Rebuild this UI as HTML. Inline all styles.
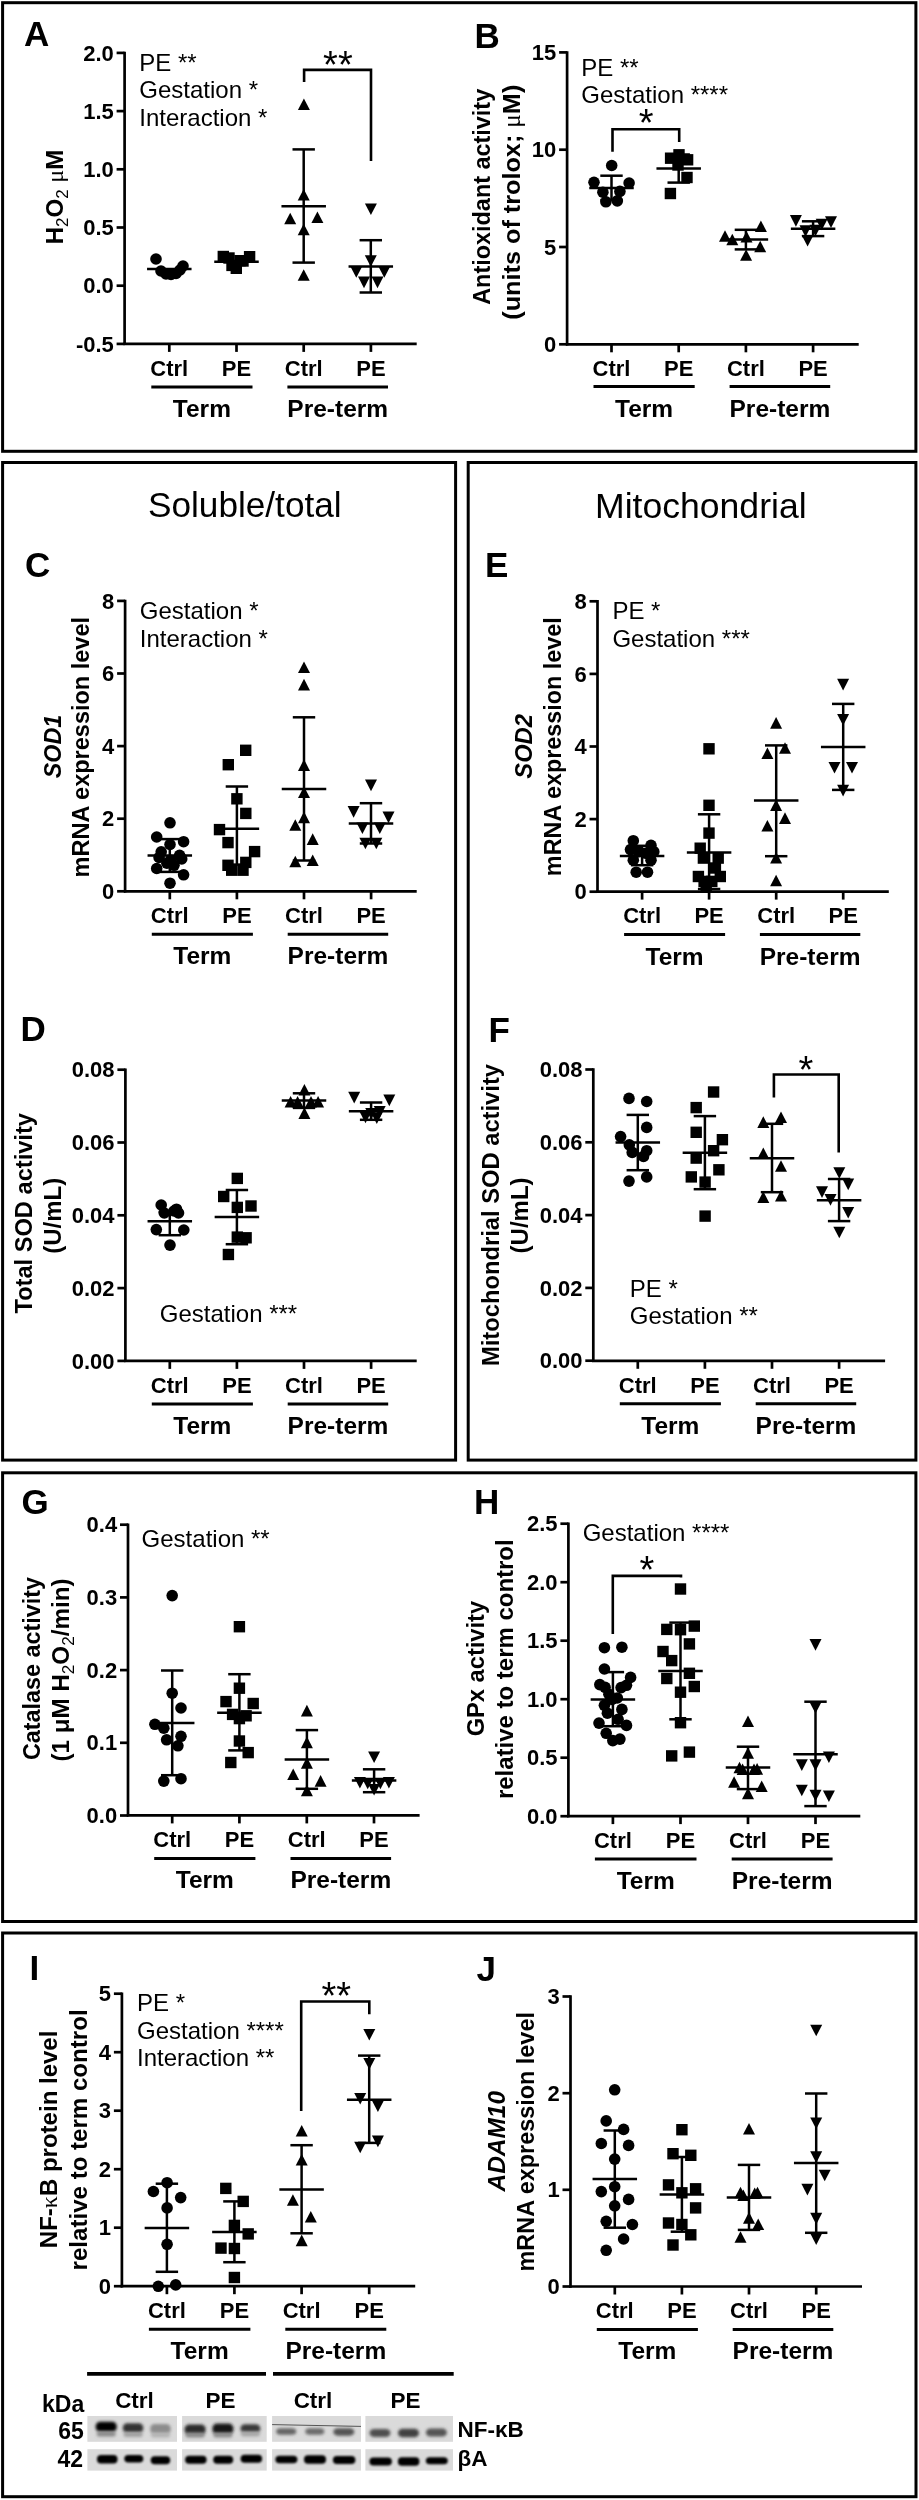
<!DOCTYPE html>
<html><head><meta charset="utf-8"><style>
html,body{margin:0;padding:0;background:#fff;}
svg{display:block;will-change:transform;}
text{font-family:"Liberation Sans",sans-serif;fill:#000;}
</style></head><body>
<svg width="919" height="2500" viewBox="0 0 919 2500">
<rect width="919" height="2500" fill="#fff"/>
<rect x="2.6" y="2.7" width="913.3" height="448.6" fill="none" stroke="#000" stroke-width="3"/>
<rect x="2.6" y="462.5" width="453.0" height="997.5999999999999" fill="none" stroke="#000" stroke-width="3"/>
<rect x="468.2" y="462.5" width="447.7" height="997.5999999999999" fill="none" stroke="#000" stroke-width="3"/>
<rect x="2.6" y="1472.8" width="913.3" height="448.70000000000005" fill="none" stroke="#000" stroke-width="3"/>
<rect x="2.6" y="1933" width="913.4" height="563.6999999999998" fill="none" stroke="#000" stroke-width="3"/>
<text x="24" y="46" font-size="35" font-weight="bold" text-anchor="start" >A</text>
<line x1="124.6" y1="51.699999999999996" x2="124.6" y2="345.09999999999997" stroke="#000" stroke-width="2.7"/>
<line x1="116.6" y1="52.9" x2="124.6" y2="52.9" stroke="#000" stroke-width="2.7"/>
<text x="113.8" y="60.5" font-size="22" font-weight="bold" text-anchor="end" >2.0</text>
<line x1="116.6" y1="111.1" x2="124.6" y2="111.1" stroke="#000" stroke-width="2.7"/>
<text x="113.8" y="118.69999999999999" font-size="22" font-weight="bold" text-anchor="end" >1.5</text>
<line x1="116.6" y1="169.3" x2="124.6" y2="169.3" stroke="#000" stroke-width="2.7"/>
<text x="113.8" y="176.9" font-size="22" font-weight="bold" text-anchor="end" >1.0</text>
<line x1="116.6" y1="227.5" x2="124.6" y2="227.5" stroke="#000" stroke-width="2.7"/>
<text x="113.8" y="235.1" font-size="22" font-weight="bold" text-anchor="end" >0.5</text>
<line x1="116.6" y1="285.7" x2="124.6" y2="285.7" stroke="#000" stroke-width="2.7"/>
<text x="113.8" y="293.3" font-size="22" font-weight="bold" text-anchor="end" >0.0</text>
<line x1="116.6" y1="343.9" x2="124.6" y2="343.9" stroke="#000" stroke-width="2.7"/>
<text x="113.8" y="351.5" font-size="22" font-weight="bold" text-anchor="end" >-0.5</text>
<line x1="123.39999999999999" y1="343.9" x2="416.7" y2="343.9" stroke="#000" stroke-width="2.7"/>
<line x1="169.3" y1="343.9" x2="169.3" y2="351.9" stroke="#000" stroke-width="2.7"/>
<line x1="236.5" y1="343.9" x2="236.5" y2="351.9" stroke="#000" stroke-width="2.7"/>
<line x1="303.7" y1="343.9" x2="303.7" y2="351.9" stroke="#000" stroke-width="2.7"/>
<line x1="370.9" y1="343.9" x2="370.9" y2="351.9" stroke="#000" stroke-width="2.7"/>
<text x="169.3" y="375.6" font-size="22" font-weight="bold" text-anchor="middle" >Ctrl</text>
<text x="236.5" y="375.6" font-size="22" font-weight="bold" text-anchor="middle" >PE</text>
<text x="303.7" y="375.6" font-size="22" font-weight="bold" text-anchor="middle" >Ctrl</text>
<text x="370.9" y="375.6" font-size="22" font-weight="bold" text-anchor="middle" >PE</text>
<line x1="151.3" y1="386.9" x2="252.5" y2="386.9" stroke="#000" stroke-width="3"/>
<text x="201.9" y="416.8" font-size="24.5" font-weight="bold" text-anchor="middle" >Term</text>
<line x1="287.4" y1="386.9" x2="388.0" y2="386.9" stroke="#000" stroke-width="3"/>
<text x="337.7" y="416.8" font-size="24.5" font-weight="bold" text-anchor="middle" >Pre-term</text>
<text transform="translate(63.2,197) rotate(-90)" font-size="24" font-weight="bold" text-anchor="middle">H<tspan font-size="17" font-weight="normal" dy="5">2</tspan><tspan dy="-5">O</tspan><tspan font-size="17" font-weight="normal" dy="5">2</tspan><tspan dy="-5"> </tspan><tspan font-family="Liberation Serif" font-weight="normal">μ</tspan>M</text>
<text x="139.3" y="70.6" font-size="24" font-weight="normal" text-anchor="start" >PE **</text>
<text x="139.3" y="98.19999999999999" font-size="24" font-weight="normal" text-anchor="start" >Gestation *</text>
<text x="139.3" y="125.8" font-size="24" font-weight="normal" text-anchor="start" >Interaction *</text>
<path d="M304.1,82.1V69.9H371V161" fill="none" stroke="#000" stroke-width="2.6"/>
<text x="337.9" y="78.3" font-size="38" font-weight="normal" text-anchor="middle" >**</text>
<circle cx="156" cy="259" r="5.8"/>
<circle cx="183" cy="266" r="5.8"/>
<circle cx="161" cy="271" r="5.8"/>
<circle cx="166" cy="274" r="5.8"/>
<circle cx="171" cy="274.5" r="5.8"/>
<circle cx="176" cy="273.5" r="5.8"/>
<circle cx="180" cy="270" r="5.8"/>
<line x1="147.05" y1="269.1" x2="191.55" y2="269.1" stroke="#000" stroke-width="2.5"/>
<rect x="217.6" y="250.8" width="11.4" height="11.4"/>
<rect x="223.3" y="252.3" width="11.4" height="11.4"/>
<rect x="243.9" y="251.0" width="11.4" height="11.4"/>
<rect x="234.3" y="255.0" width="11.4" height="11.4"/>
<rect x="230.6" y="262.6" width="11.4" height="11.4"/>
<rect x="226.3" y="259.7" width="11.4" height="11.4"/>
<rect x="237.3" y="255.3" width="11.4" height="11.4"/>
<line x1="214.25" y1="261.8" x2="258.75" y2="261.8" stroke="#000" stroke-width="2.5"/>
<path d="M303.9,98.5L309.9,110.1L297.9,110.1Z"/>
<path d="M303.7,188.9L309.7,200.5L297.7,200.5Z"/>
<path d="M290.2,212.7L296.2,224.3L284.2,224.3Z"/>
<path d="M317.4,211.5L323.4,223.1L311.4,223.1Z"/>
<path d="M303.7,223.7L309.7,235.3L297.7,235.3Z"/>
<path d="M303.7,269.2L309.7,280.8L297.7,280.8Z"/>
<line x1="303.7" y1="262.6" x2="303.7" y2="149.4" stroke="#000" stroke-width="2.5"/>
<line x1="292.5" y1="262.6" x2="314.9" y2="262.6" stroke="#000" stroke-width="2.5"/>
<line x1="292.5" y1="149.4" x2="314.9" y2="149.4" stroke="#000" stroke-width="2.5"/>
<line x1="281.45" y1="206.3" x2="325.95" y2="206.3" stroke="#000" stroke-width="2.5"/>
<path d="M370.9,215.0L376.9,203.4L364.9,203.4Z"/>
<path d="M370.8,266.8L376.8,255.2L364.8,255.2Z"/>
<path d="M356.3,277.8L362.3,266.2L350.3,266.2Z"/>
<path d="M384.3,277.8L390.3,266.2L378.3,266.2Z"/>
<path d="M364.0,288.2L370.0,276.6L358.0,276.6Z"/>
<path d="M377.5,288.2L383.5,276.6L371.5,276.6Z"/>
<line x1="370.8" y1="292.5" x2="370.8" y2="240.2" stroke="#000" stroke-width="2.5"/>
<line x1="359.6" y1="292.5" x2="382.0" y2="292.5" stroke="#000" stroke-width="2.5"/>
<line x1="359.6" y1="240.2" x2="382.0" y2="240.2" stroke="#000" stroke-width="2.5"/>
<line x1="348.55" y1="266.5" x2="393.05" y2="266.5" stroke="#000" stroke-width="2.5"/>
<text x="474.6" y="47.7" font-size="35" font-weight="bold" text-anchor="start" >B</text>
<line x1="567.1" y1="51.199999999999996" x2="567.1" y2="345.5" stroke="#000" stroke-width="2.7"/>
<line x1="559.1" y1="52.4" x2="567.1" y2="52.4" stroke="#000" stroke-width="2.7"/>
<text x="556.3000000000001" y="60.0" font-size="22" font-weight="bold" text-anchor="end" >15</text>
<line x1="559.1" y1="149.7" x2="567.1" y2="149.7" stroke="#000" stroke-width="2.7"/>
<text x="556.3000000000001" y="157.29999999999998" font-size="22" font-weight="bold" text-anchor="end" >10</text>
<line x1="559.1" y1="247.0" x2="567.1" y2="247.0" stroke="#000" stroke-width="2.7"/>
<text x="556.3000000000001" y="254.6" font-size="22" font-weight="bold" text-anchor="end" >5</text>
<line x1="559.1" y1="344.3" x2="567.1" y2="344.3" stroke="#000" stroke-width="2.7"/>
<text x="556.3000000000001" y="351.90000000000003" font-size="22" font-weight="bold" text-anchor="end" >0</text>
<line x1="565.9" y1="344.3" x2="858.7" y2="344.3" stroke="#000" stroke-width="2.7"/>
<line x1="611.5" y1="344.3" x2="611.5" y2="352.3" stroke="#000" stroke-width="2.7"/>
<line x1="678.7" y1="344.3" x2="678.7" y2="352.3" stroke="#000" stroke-width="2.7"/>
<line x1="745.9" y1="344.3" x2="745.9" y2="352.3" stroke="#000" stroke-width="2.7"/>
<line x1="813.1" y1="344.3" x2="813.1" y2="352.3" stroke="#000" stroke-width="2.7"/>
<text x="611.5" y="375.6" font-size="22" font-weight="bold" text-anchor="middle" >Ctrl</text>
<text x="678.7" y="375.6" font-size="22" font-weight="bold" text-anchor="middle" >PE</text>
<text x="745.9" y="375.6" font-size="22" font-weight="bold" text-anchor="middle" >Ctrl</text>
<text x="813.1" y="375.6" font-size="22" font-weight="bold" text-anchor="middle" >PE</text>
<line x1="593.5" y1="386.6" x2="694.7" y2="386.6" stroke="#000" stroke-width="3"/>
<text x="644.1" y="416.5" font-size="24.5" font-weight="bold" text-anchor="middle" >Term</text>
<line x1="729.6" y1="386.6" x2="830.2" y2="386.6" stroke="#000" stroke-width="3"/>
<text x="779.9000000000001" y="416.5" font-size="24.5" font-weight="bold" text-anchor="middle" >Pre-term</text>
<text transform="translate(489.5,196.8) rotate(-90)" font-size="24.5" font-weight="bold" text-anchor="middle" textLength="216" lengthAdjust="spacingAndGlyphs" >Antioxidant activity</text>
<text transform="translate(519.7,202.2) rotate(-90)" font-size="24.5" font-weight="bold" text-anchor="middle" textLength="235" lengthAdjust="spacingAndGlyphs" >(units of trolox; <tspan font-family="Liberation Serif" font-weight="normal">μ</tspan>M)</text>
<text x="581.3" y="75.5" font-size="24" font-weight="normal" text-anchor="start" >PE **</text>
<text x="581.3" y="103.1" font-size="24" font-weight="normal" text-anchor="start" >Gestation ****</text>
<path d="M612.5,151.8V129.3H679.2V141.9" fill="none" stroke="#000" stroke-width="2.6"/>
<text x="646.1" y="136.2" font-size="38" font-weight="normal" text-anchor="middle" >*</text>
<circle cx="611.7" cy="165.5" r="5.8"/>
<circle cx="594" cy="182.3" r="5.8"/>
<circle cx="629.1" cy="183" r="5.8"/>
<circle cx="602.9" cy="192.2" r="5.8"/>
<circle cx="619.9" cy="191.4" r="5.8"/>
<circle cx="605.9" cy="201.8" r="5.8"/>
<circle cx="617.3" cy="200.9" r="5.8"/>
<line x1="611.5" y1="200" x2="611.5" y2="175.7" stroke="#000" stroke-width="2.5"/>
<line x1="600.3" y1="200" x2="622.7" y2="200" stroke="#000" stroke-width="2.5"/>
<line x1="600.3" y1="175.7" x2="622.7" y2="175.7" stroke="#000" stroke-width="2.5"/>
<line x1="589.25" y1="188" x2="633.75" y2="188" stroke="#000" stroke-width="2.5"/>
<rect x="673.3" y="149.1" width="11.4" height="11.4"/>
<rect x="664.9" y="152.5" width="11.4" height="11.4"/>
<rect x="681.9" y="154.1" width="11.4" height="11.4"/>
<rect x="672.3" y="159.3" width="11.4" height="11.4"/>
<rect x="681.3" y="171.8" width="11.4" height="11.4"/>
<rect x="664.7" y="187.8" width="11.4" height="11.4"/>
<line x1="678.7" y1="182.6" x2="678.7" y2="154.5" stroke="#000" stroke-width="2.5"/>
<line x1="667.5" y1="182.6" x2="689.9000000000001" y2="182.6" stroke="#000" stroke-width="2.5"/>
<line x1="667.5" y1="154.5" x2="689.9000000000001" y2="154.5" stroke="#000" stroke-width="2.5"/>
<line x1="656.45" y1="168.6" x2="700.95" y2="168.6" stroke="#000" stroke-width="2.5"/>
<path d="M760.9,220.4L766.9,232.0L754.9,232.0Z"/>
<path d="M725.0,230.2L731.0,241.8L719.0,241.8Z"/>
<path d="M732.3,233.7L738.3,245.3L726.3,245.3Z"/>
<path d="M746.5,231.0L752.5,242.6L740.5,242.6Z"/>
<path d="M760.2,240.7L766.2,252.3L754.2,252.3Z"/>
<path d="M746.1,249.2L752.1,260.8L740.1,260.8Z"/>
<line x1="745.9" y1="249.4" x2="745.9" y2="229.8" stroke="#000" stroke-width="2.5"/>
<line x1="734.6999999999999" y1="249.4" x2="757.1" y2="249.4" stroke="#000" stroke-width="2.5"/>
<line x1="734.6999999999999" y1="229.8" x2="757.1" y2="229.8" stroke="#000" stroke-width="2.5"/>
<line x1="723.65" y1="239.4" x2="768.15" y2="239.4" stroke="#000" stroke-width="2.5"/>
<path d="M795.9,226.7L801.9,215.1L789.9,215.1Z"/>
<path d="M831.0,227.9L837.0,216.3L825.0,216.3Z"/>
<path d="M821.7,230.3L827.7,218.7L815.7,218.7Z"/>
<path d="M805.5,236.9L811.5,225.3L799.5,225.3Z"/>
<path d="M815.5,236.3L821.5,224.7L809.5,224.7Z"/>
<path d="M807.6,246.5L813.6,234.9L801.6,234.9Z"/>
<line x1="813.1" y1="236.1" x2="813.1" y2="221.3" stroke="#000" stroke-width="2.5"/>
<line x1="801.9" y1="236.1" x2="824.3000000000001" y2="236.1" stroke="#000" stroke-width="2.5"/>
<line x1="801.9" y1="221.3" x2="824.3000000000001" y2="221.3" stroke="#000" stroke-width="2.5"/>
<line x1="790.85" y1="228.8" x2="835.35" y2="228.8" stroke="#000" stroke-width="2.5"/>
<text x="244.8" y="516.8" font-size="35.2" font-weight="normal" text-anchor="middle" >Soluble/total</text>
<text x="700.8" y="518" font-size="35.6" font-weight="normal" text-anchor="middle" >Mitochondrial</text>
<text x="25" y="576.6" font-size="35" font-weight="bold" text-anchor="start" >C</text>
<line x1="125.1" y1="599.6999999999999" x2="125.1" y2="892.5" stroke="#000" stroke-width="2.7"/>
<line x1="117.1" y1="600.9" x2="125.1" y2="600.9" stroke="#000" stroke-width="2.7"/>
<text x="114.3" y="608.5" font-size="22" font-weight="bold" text-anchor="end" >8</text>
<line x1="117.1" y1="673.5" x2="125.1" y2="673.5" stroke="#000" stroke-width="2.7"/>
<text x="114.3" y="681.1" font-size="22" font-weight="bold" text-anchor="end" >6</text>
<line x1="117.1" y1="746.1" x2="125.1" y2="746.1" stroke="#000" stroke-width="2.7"/>
<text x="114.3" y="753.7" font-size="22" font-weight="bold" text-anchor="end" >4</text>
<line x1="117.1" y1="818.7" x2="125.1" y2="818.7" stroke="#000" stroke-width="2.7"/>
<text x="114.3" y="826.3000000000001" font-size="22" font-weight="bold" text-anchor="end" >2</text>
<line x1="117.1" y1="891.3" x2="125.1" y2="891.3" stroke="#000" stroke-width="2.7"/>
<text x="114.3" y="898.9" font-size="22" font-weight="bold" text-anchor="end" >0</text>
<line x1="123.89999999999999" y1="891.3" x2="416.7" y2="891.3" stroke="#000" stroke-width="2.7"/>
<line x1="169.8" y1="891.3" x2="169.8" y2="899.3" stroke="#000" stroke-width="2.7"/>
<line x1="236.9" y1="891.3" x2="236.9" y2="899.3" stroke="#000" stroke-width="2.7"/>
<line x1="304.0" y1="891.3" x2="304.0" y2="899.3" stroke="#000" stroke-width="2.7"/>
<line x1="371.1" y1="891.3" x2="371.1" y2="899.3" stroke="#000" stroke-width="2.7"/>
<text x="169.8" y="923.0" font-size="22" font-weight="bold" text-anchor="middle" >Ctrl</text>
<text x="236.9" y="923.0" font-size="22" font-weight="bold" text-anchor="middle" >PE</text>
<text x="304.0" y="923.0" font-size="22" font-weight="bold" text-anchor="middle" >Ctrl</text>
<text x="371.1" y="923.0" font-size="22" font-weight="bold" text-anchor="middle" >PE</text>
<line x1="151.8" y1="934.3" x2="252.9" y2="934.3" stroke="#000" stroke-width="3"/>
<text x="202.35000000000002" y="964.1999999999999" font-size="24.5" font-weight="bold" text-anchor="middle" >Term</text>
<line x1="287.7" y1="934.3" x2="388.20000000000005" y2="934.3" stroke="#000" stroke-width="3"/>
<text x="337.95000000000005" y="964.1999999999999" font-size="24.5" font-weight="bold" text-anchor="middle" >Pre-term</text>
<text transform="translate(60.8,746.5) rotate(-90)" font-size="24" font-weight="bold" text-anchor="middle" textLength="63.5" lengthAdjust="spacingAndGlyphs" ><tspan font-style="italic">SOD1</tspan></text>
<text transform="translate(89.3,747.2) rotate(-90)" font-size="24" font-weight="bold" text-anchor="middle" textLength="260.5" lengthAdjust="spacingAndGlyphs" >mRNA expression level</text>
<text x="139.8" y="618.7" font-size="24" font-weight="normal" text-anchor="start" >Gestation *</text>
<text x="139.8" y="646.6" font-size="24" font-weight="normal" text-anchor="start" >Interaction *</text>
<circle cx="170" cy="822.8" r="5.8"/>
<circle cx="156.7" cy="837" r="5.8"/>
<circle cx="183.6" cy="841.7" r="5.8"/>
<circle cx="170" cy="844.5" r="5.8"/>
<circle cx="161.2" cy="851.8" r="5.8"/>
<circle cx="179.6" cy="855.4" r="5.8"/>
<circle cx="159.1" cy="857.5" r="5.8"/>
<circle cx="181.7" cy="858.9" r="5.8"/>
<circle cx="166.9" cy="863.2" r="5.8"/>
<circle cx="174" cy="865.3" r="5.8"/>
<circle cx="156.7" cy="868.5" r="5.8"/>
<circle cx="183.6" cy="874.8" r="5.8"/>
<circle cx="170" cy="883.2" r="5.8"/>
<circle cx="170.4" cy="860.3" r="5.8"/>
<line x1="169.8" y1="871.9" x2="169.8" y2="839.1" stroke="#000" stroke-width="2.5"/>
<line x1="158.60000000000002" y1="871.9" x2="181.0" y2="871.9" stroke="#000" stroke-width="2.5"/>
<line x1="158.60000000000002" y1="839.1" x2="181.0" y2="839.1" stroke="#000" stroke-width="2.5"/>
<line x1="147.55" y1="855.4" x2="192.05" y2="855.4" stroke="#000" stroke-width="2.5"/>
<rect x="240.0" y="744.6" width="11.4" height="11.4"/>
<rect x="222.6" y="759.0" width="11.4" height="11.4"/>
<rect x="231.2" y="793.1" width="11.4" height="11.4"/>
<rect x="240.1" y="807.7" width="11.4" height="11.4"/>
<rect x="213.8" y="823.9" width="11.4" height="11.4"/>
<rect x="222.3" y="836.9" width="11.4" height="11.4"/>
<rect x="248.9" y="845.9" width="11.4" height="11.4"/>
<rect x="240.1" y="856.7" width="11.4" height="11.4"/>
<rect x="222.3" y="859.6" width="11.4" height="11.4"/>
<rect x="226.0" y="864.5" width="11.4" height="11.4"/>
<rect x="237.3" y="864.5" width="11.4" height="11.4"/>
<line x1="236.9" y1="864.6" x2="236.9" y2="786.5" stroke="#000" stroke-width="2.5"/>
<line x1="225.70000000000002" y1="864.6" x2="248.1" y2="864.6" stroke="#000" stroke-width="2.5"/>
<line x1="225.70000000000002" y1="786.5" x2="248.1" y2="786.5" stroke="#000" stroke-width="2.5"/>
<line x1="214.65" y1="828.8" x2="259.15" y2="828.8" stroke="#000" stroke-width="2.5"/>
<path d="M304.0,661.4L310.0,673.0L298.0,673.0Z"/>
<path d="M304.0,678.8L310.0,690.4L298.0,690.4Z"/>
<path d="M304.0,759.3L310.0,770.9L298.0,770.9Z"/>
<path d="M304.0,786.5L310.0,798.1L298.0,798.1Z"/>
<path d="M304.0,811.6L310.0,823.2L298.0,823.2Z"/>
<path d="M295.3,819.2L301.3,830.8L289.3,830.8Z"/>
<path d="M312.7,833.3L318.7,844.9L306.7,844.9Z"/>
<path d="M295.3,855.7L301.3,867.3L289.3,867.3Z"/>
<path d="M312.7,854.4L318.7,866.0L306.7,866.0Z"/>
<line x1="304" y1="860.5" x2="304" y2="717.3" stroke="#000" stroke-width="2.5"/>
<line x1="292.8" y1="860.5" x2="315.2" y2="860.5" stroke="#000" stroke-width="2.5"/>
<line x1="292.8" y1="717.3" x2="315.2" y2="717.3" stroke="#000" stroke-width="2.5"/>
<line x1="281.75" y1="789.1" x2="326.25" y2="789.1" stroke="#000" stroke-width="2.5"/>
<path d="M371.0,791.2L377.0,779.6L365.0,779.6Z"/>
<path d="M353.6,817.7L359.6,806.1L347.6,806.1Z"/>
<path d="M388.5,823.2L394.5,811.6L382.5,811.6Z"/>
<path d="M362.4,834.1L368.4,822.5L356.4,822.5Z"/>
<path d="M379.8,834.1L385.8,822.5L373.8,822.5Z"/>
<path d="M365.4,849.3L371.4,837.7L359.4,837.7Z"/>
<path d="M376.3,849.3L382.3,837.7L370.3,837.7Z"/>
<line x1="371" y1="843.5" x2="371" y2="803.2" stroke="#000" stroke-width="2.5"/>
<line x1="359.8" y1="843.5" x2="382.2" y2="843.5" stroke="#000" stroke-width="2.5"/>
<line x1="359.8" y1="803.2" x2="382.2" y2="803.2" stroke="#000" stroke-width="2.5"/>
<line x1="348.75" y1="823.5" x2="393.25" y2="823.5" stroke="#000" stroke-width="2.5"/>
<text x="485" y="577.1" font-size="35" font-weight="bold" text-anchor="start" >E</text>
<line x1="597.5" y1="600.0999999999999" x2="597.5" y2="892.8000000000001" stroke="#000" stroke-width="2.7"/>
<line x1="589.5" y1="601.3" x2="597.5" y2="601.3" stroke="#000" stroke-width="2.7"/>
<text x="586.7" y="608.9" font-size="22" font-weight="bold" text-anchor="end" >8</text>
<line x1="589.5" y1="673.9" x2="597.5" y2="673.9" stroke="#000" stroke-width="2.7"/>
<text x="586.7" y="681.5" font-size="22" font-weight="bold" text-anchor="end" >6</text>
<line x1="589.5" y1="746.5" x2="597.5" y2="746.5" stroke="#000" stroke-width="2.7"/>
<text x="586.7" y="754.1" font-size="22" font-weight="bold" text-anchor="end" >4</text>
<line x1="589.5" y1="819.1" x2="597.5" y2="819.1" stroke="#000" stroke-width="2.7"/>
<text x="586.7" y="826.7" font-size="22" font-weight="bold" text-anchor="end" >2</text>
<line x1="589.5" y1="891.6999999999999" x2="597.5" y2="891.6999999999999" stroke="#000" stroke-width="2.7"/>
<text x="586.7" y="899.3" font-size="22" font-weight="bold" text-anchor="end" >0</text>
<line x1="596.3" y1="891.6" x2="888.8" y2="891.6" stroke="#000" stroke-width="2.7"/>
<line x1="642.1" y1="891.6" x2="642.1" y2="899.6" stroke="#000" stroke-width="2.7"/>
<line x1="709.1" y1="891.6" x2="709.1" y2="899.6" stroke="#000" stroke-width="2.7"/>
<line x1="776.2" y1="891.6" x2="776.2" y2="899.6" stroke="#000" stroke-width="2.7"/>
<line x1="843.2" y1="891.6" x2="843.2" y2="899.6" stroke="#000" stroke-width="2.7"/>
<text x="642.1" y="923.3000000000001" font-size="22" font-weight="bold" text-anchor="middle" >Ctrl</text>
<text x="709.1" y="923.3000000000001" font-size="22" font-weight="bold" text-anchor="middle" >PE</text>
<text x="776.2" y="923.3000000000001" font-size="22" font-weight="bold" text-anchor="middle" >Ctrl</text>
<text x="843.2" y="923.3000000000001" font-size="22" font-weight="bold" text-anchor="middle" >PE</text>
<line x1="624.1" y1="934.6" x2="725.1" y2="934.6" stroke="#000" stroke-width="3"/>
<text x="674.6" y="964.5" font-size="24.5" font-weight="bold" text-anchor="middle" >Term</text>
<line x1="759.9000000000001" y1="934.6" x2="860.3000000000001" y2="934.6" stroke="#000" stroke-width="3"/>
<text x="810.1000000000001" y="964.5" font-size="24.5" font-weight="bold" text-anchor="middle" >Pre-term</text>
<text transform="translate(532.4,746.4) rotate(-90)" font-size="24" font-weight="bold" text-anchor="middle" textLength="64.5" lengthAdjust="spacingAndGlyphs" ><tspan font-style="italic">SOD2</tspan></text>
<text transform="translate(561.4,746.7) rotate(-90)" font-size="24" font-weight="bold" text-anchor="middle" textLength="258.9" lengthAdjust="spacingAndGlyphs" >mRNA expression level</text>
<text x="612.4" y="619.4" font-size="24" font-weight="normal" text-anchor="start" >PE *</text>
<text x="612.4" y="646.8" font-size="24" font-weight="normal" text-anchor="start" >Gestation ***</text>
<circle cx="633.3" cy="840.7" r="5.8"/>
<circle cx="651" cy="845.4" r="5.8"/>
<circle cx="630.5" cy="849.6" r="5.8"/>
<circle cx="653.8" cy="851.7" r="5.8"/>
<circle cx="638.3" cy="851.7" r="5.8"/>
<circle cx="645.4" cy="853.2" r="5.8"/>
<circle cx="633.3" cy="860.2" r="5.8"/>
<circle cx="651" cy="860.2" r="5.8"/>
<circle cx="636.2" cy="872.2" r="5.8"/>
<circle cx="647.5" cy="872.2" r="5.8"/>
<line x1="642.1" y1="865.2" x2="642.1" y2="845.8" stroke="#000" stroke-width="2.5"/>
<line x1="630.9" y1="865.2" x2="653.3000000000001" y2="865.2" stroke="#000" stroke-width="2.5"/>
<line x1="630.9" y1="845.8" x2="653.3000000000001" y2="845.8" stroke="#000" stroke-width="2.5"/>
<line x1="619.85" y1="856" x2="664.35" y2="856" stroke="#000" stroke-width="2.5"/>
<rect x="703.3" y="743.1" width="11.4" height="11.4"/>
<rect x="703.3" y="799.6" width="11.4" height="11.4"/>
<rect x="703.3" y="827.4" width="11.4" height="11.4"/>
<rect x="694.5" y="842.5" width="11.4" height="11.4"/>
<rect x="697.7" y="852.4" width="11.4" height="11.4"/>
<rect x="712.5" y="852.4" width="11.4" height="11.4"/>
<rect x="709.7" y="862.3" width="11.4" height="11.4"/>
<rect x="692.7" y="870.8" width="11.4" height="11.4"/>
<rect x="714.6" y="870.8" width="11.4" height="11.4"/>
<rect x="698.4" y="875.7" width="11.4" height="11.4"/>
<rect x="700.5" y="880.0" width="11.4" height="11.4"/>
<rect x="706.1" y="875.7" width="11.4" height="11.4"/>
<line x1="709.1" y1="889" x2="709.1" y2="814.3" stroke="#000" stroke-width="2.5"/>
<line x1="697.9" y1="889" x2="720.3000000000001" y2="889" stroke="#000" stroke-width="2.5"/>
<line x1="697.9" y1="814.3" x2="720.3000000000001" y2="814.3" stroke="#000" stroke-width="2.5"/>
<line x1="686.85" y1="852.4" x2="731.35" y2="852.4" stroke="#000" stroke-width="2.5"/>
<path d="M776.1,717.1L782.1,728.7L770.1,728.7Z"/>
<path d="M785.0,742.2L791.0,753.8L779.0,753.8Z"/>
<path d="M767.4,747.5L773.4,759.1L761.4,759.1Z"/>
<path d="M776.1,799.3L782.1,810.9L770.1,810.9Z"/>
<path d="M785.0,812.3L791.0,823.9L779.0,823.9Z"/>
<path d="M767.4,819.9L773.4,831.5L761.4,831.5Z"/>
<path d="M776.1,851.9L782.1,863.5L770.1,863.5Z"/>
<path d="M776.1,874.7L782.1,886.3L770.1,886.3Z"/>
<line x1="776.2" y1="856.2" x2="776.2" y2="745.4" stroke="#000" stroke-width="2.5"/>
<line x1="765.0" y1="856.2" x2="787.4000000000001" y2="856.2" stroke="#000" stroke-width="2.5"/>
<line x1="765.0" y1="745.4" x2="787.4000000000001" y2="745.4" stroke="#000" stroke-width="2.5"/>
<line x1="753.95" y1="800.5" x2="798.45" y2="800.5" stroke="#000" stroke-width="2.5"/>
<path d="M843.1,690.4L849.1,678.8L837.1,678.8Z"/>
<path d="M843.1,725.6L849.1,714.0L837.1,714.0Z"/>
<path d="M834.5,773.6L840.5,762.0L828.5,762.0Z"/>
<path d="M852.0,773.6L858.0,762.0L846.0,762.0Z"/>
<path d="M843.1,796.4L849.1,784.8L837.1,784.8Z"/>
<line x1="843.2" y1="789.9" x2="843.2" y2="703.9" stroke="#000" stroke-width="2.5"/>
<line x1="832.0" y1="789.9" x2="854.4000000000001" y2="789.9" stroke="#000" stroke-width="2.5"/>
<line x1="832.0" y1="703.9" x2="854.4000000000001" y2="703.9" stroke="#000" stroke-width="2.5"/>
<line x1="820.95" y1="746.9" x2="865.45" y2="746.9" stroke="#000" stroke-width="2.5"/>
<text x="20.5" y="1041.1" font-size="35" font-weight="bold" text-anchor="start" >D</text>
<line x1="125.4" y1="1068.5" x2="125.4" y2="1362.1000000000001" stroke="#000" stroke-width="2.7"/>
<line x1="117.4" y1="1069.7" x2="125.4" y2="1069.7" stroke="#000" stroke-width="2.7"/>
<text x="114.60000000000001" y="1077.3" font-size="22" font-weight="bold" text-anchor="end" >0.08</text>
<line x1="117.4" y1="1142.5" x2="125.4" y2="1142.5" stroke="#000" stroke-width="2.7"/>
<text x="114.60000000000001" y="1150.1" font-size="22" font-weight="bold" text-anchor="end" >0.06</text>
<line x1="117.4" y1="1215.3" x2="125.4" y2="1215.3" stroke="#000" stroke-width="2.7"/>
<text x="114.60000000000001" y="1222.8999999999999" font-size="22" font-weight="bold" text-anchor="end" >0.04</text>
<line x1="117.4" y1="1288.1" x2="125.4" y2="1288.1" stroke="#000" stroke-width="2.7"/>
<text x="114.60000000000001" y="1295.6999999999998" font-size="22" font-weight="bold" text-anchor="end" >0.02</text>
<line x1="117.4" y1="1360.9" x2="125.4" y2="1360.9" stroke="#000" stroke-width="2.7"/>
<text x="114.60000000000001" y="1368.5" font-size="22" font-weight="bold" text-anchor="end" >0.00</text>
<line x1="124.2" y1="1360.9" x2="416.7" y2="1360.9" stroke="#000" stroke-width="2.7"/>
<line x1="169.8" y1="1360.9" x2="169.8" y2="1368.9" stroke="#000" stroke-width="2.7"/>
<line x1="236.9" y1="1360.9" x2="236.9" y2="1368.9" stroke="#000" stroke-width="2.7"/>
<line x1="304.0" y1="1360.9" x2="304.0" y2="1368.9" stroke="#000" stroke-width="2.7"/>
<line x1="371.1" y1="1360.9" x2="371.1" y2="1368.9" stroke="#000" stroke-width="2.7"/>
<text x="169.8" y="1392.6000000000001" font-size="22" font-weight="bold" text-anchor="middle" >Ctrl</text>
<text x="236.9" y="1392.6000000000001" font-size="22" font-weight="bold" text-anchor="middle" >PE</text>
<text x="304.0" y="1392.6000000000001" font-size="22" font-weight="bold" text-anchor="middle" >Ctrl</text>
<text x="371.1" y="1392.6000000000001" font-size="22" font-weight="bold" text-anchor="middle" >PE</text>
<line x1="151.8" y1="1403.9" x2="252.9" y2="1403.9" stroke="#000" stroke-width="3"/>
<text x="202.35000000000002" y="1433.8000000000002" font-size="24.5" font-weight="bold" text-anchor="middle" >Term</text>
<line x1="287.7" y1="1403.9" x2="388.20000000000005" y2="1403.9" stroke="#000" stroke-width="3"/>
<text x="337.95000000000005" y="1433.8000000000002" font-size="24.5" font-weight="bold" text-anchor="middle" >Pre-term</text>
<text transform="translate(31.7,1213.3) rotate(-90)" font-size="24" font-weight="bold" text-anchor="middle" textLength="200.5" lengthAdjust="spacingAndGlyphs" >Total SOD activity</text>
<text transform="translate(60.8,1215.8) rotate(-90)" font-size="24" font-weight="bold" text-anchor="middle" textLength="76" lengthAdjust="spacingAndGlyphs" >(U/mL)</text>
<text x="159.8" y="1321.9" font-size="24" font-weight="normal" text-anchor="start" >Gestation ***</text>
<circle cx="161.2" cy="1205" r="5.8"/>
<circle cx="164.3" cy="1213" r="5.8"/>
<circle cx="176.5" cy="1209.2" r="5.8"/>
<circle cx="178.5" cy="1213" r="5.8"/>
<circle cx="174" cy="1211" r="5.8"/>
<circle cx="156.3" cy="1229.6" r="5.8"/>
<circle cx="183.8" cy="1230" r="5.8"/>
<circle cx="170" cy="1245.1" r="5.8"/>
<line x1="169.8" y1="1235.2" x2="169.8" y2="1212" stroke="#000" stroke-width="2.5"/>
<line x1="158.60000000000002" y1="1235.2" x2="181.0" y2="1235.2" stroke="#000" stroke-width="2.5"/>
<line x1="158.60000000000002" y1="1212" x2="181.0" y2="1212" stroke="#000" stroke-width="2.5"/>
<line x1="147.55" y1="1221.2" x2="192.05" y2="1221.2" stroke="#000" stroke-width="2.5"/>
<rect x="231.6" y="1172.7" width="11.4" height="11.4"/>
<rect x="218.0" y="1190.8" width="11.4" height="11.4"/>
<rect x="231.6" y="1201.7" width="11.4" height="11.4"/>
<rect x="245.3" y="1200.3" width="11.4" height="11.4"/>
<rect x="231.6" y="1231.4" width="11.4" height="11.4"/>
<rect x="240.4" y="1232.1" width="11.4" height="11.4"/>
<rect x="222.7" y="1248.8" width="11.4" height="11.4"/>
<line x1="236.9" y1="1244.2" x2="236.9" y2="1190" stroke="#000" stroke-width="2.5"/>
<line x1="225.70000000000002" y1="1244.2" x2="248.1" y2="1244.2" stroke="#000" stroke-width="2.5"/>
<line x1="225.70000000000002" y1="1190" x2="248.1" y2="1190" stroke="#000" stroke-width="2.5"/>
<line x1="214.65" y1="1217" x2="259.15" y2="1217" stroke="#000" stroke-width="2.5"/>
<path d="M304.4,1084.0L310.4,1095.6L298.4,1095.6Z"/>
<path d="M290.6,1096.0L296.6,1107.6L284.6,1107.6Z"/>
<path d="M297.6,1096.0L303.6,1107.6L291.6,1107.6Z"/>
<path d="M311.0,1096.0L317.0,1107.6L305.0,1107.6Z"/>
<path d="M318.1,1096.0L324.1,1107.6L312.1,1107.6Z"/>
<path d="M304.4,1107.3L310.4,1118.9L298.4,1118.9Z"/>
<line x1="304" y1="1107.9" x2="304" y2="1093.3" stroke="#000" stroke-width="2.5"/>
<line x1="292.8" y1="1107.9" x2="315.2" y2="1107.9" stroke="#000" stroke-width="2.5"/>
<line x1="292.8" y1="1093.3" x2="315.2" y2="1093.3" stroke="#000" stroke-width="2.5"/>
<line x1="281.75" y1="1100.4" x2="326.25" y2="1100.4" stroke="#000" stroke-width="2.5"/>
<path d="M354.2,1103.4L360.2,1091.8L348.2,1091.8Z"/>
<path d="M389.3,1106.2L395.3,1094.6L383.3,1094.6Z"/>
<path d="M379.7,1117.5L385.7,1105.9L373.7,1105.9Z"/>
<path d="M365.5,1123.2L371.5,1111.6L359.5,1111.6Z"/>
<path d="M376.8,1123.9L382.8,1112.3L370.8,1112.3Z"/>
<path d="M371.2,1119.6L377.2,1108.0L365.2,1108.0Z"/>
<line x1="371.1" y1="1119.8" x2="371.1" y2="1102.5" stroke="#000" stroke-width="2.5"/>
<line x1="359.90000000000003" y1="1119.8" x2="382.3" y2="1119.8" stroke="#000" stroke-width="2.5"/>
<line x1="359.90000000000003" y1="1102.5" x2="382.3" y2="1102.5" stroke="#000" stroke-width="2.5"/>
<line x1="348.85" y1="1111.3" x2="393.35" y2="1111.3" stroke="#000" stroke-width="2.5"/>
<text x="488.5" y="1042" font-size="35" font-weight="bold" text-anchor="start" >F</text>
<line x1="593.3" y1="1068.3" x2="593.3" y2="1362.0" stroke="#000" stroke-width="2.7"/>
<line x1="585.3" y1="1069.5" x2="593.3" y2="1069.5" stroke="#000" stroke-width="2.7"/>
<text x="582.5" y="1077.1" font-size="22" font-weight="bold" text-anchor="end" >0.08</text>
<line x1="585.3" y1="1142.3" x2="593.3" y2="1142.3" stroke="#000" stroke-width="2.7"/>
<text x="582.5" y="1149.8999999999999" font-size="22" font-weight="bold" text-anchor="end" >0.06</text>
<line x1="585.3" y1="1215.1" x2="593.3" y2="1215.1" stroke="#000" stroke-width="2.7"/>
<text x="582.5" y="1222.6999999999998" font-size="22" font-weight="bold" text-anchor="end" >0.04</text>
<line x1="585.3" y1="1287.8999999999999" x2="593.3" y2="1287.8999999999999" stroke="#000" stroke-width="2.7"/>
<text x="582.5" y="1295.4999999999998" font-size="22" font-weight="bold" text-anchor="end" >0.02</text>
<line x1="585.3" y1="1360.7" x2="593.3" y2="1360.7" stroke="#000" stroke-width="2.7"/>
<text x="582.5" y="1368.3" font-size="22" font-weight="bold" text-anchor="end" >0.00</text>
<line x1="592.0999999999999" y1="1360.8" x2="885.1" y2="1360.8" stroke="#000" stroke-width="2.7"/>
<line x1="637.8" y1="1360.8" x2="637.8" y2="1368.8" stroke="#000" stroke-width="2.7"/>
<line x1="704.9" y1="1360.8" x2="704.9" y2="1368.8" stroke="#000" stroke-width="2.7"/>
<line x1="772.0" y1="1360.8" x2="772.0" y2="1368.8" stroke="#000" stroke-width="2.7"/>
<line x1="839.1" y1="1360.8" x2="839.1" y2="1368.8" stroke="#000" stroke-width="2.7"/>
<text x="637.8" y="1392.5" font-size="22" font-weight="bold" text-anchor="middle" >Ctrl</text>
<text x="704.9" y="1392.5" font-size="22" font-weight="bold" text-anchor="middle" >PE</text>
<text x="772.0" y="1392.5" font-size="22" font-weight="bold" text-anchor="middle" >Ctrl</text>
<text x="839.1" y="1392.5" font-size="22" font-weight="bold" text-anchor="middle" >PE</text>
<line x1="619.8" y1="1403.8" x2="720.9" y2="1403.8" stroke="#000" stroke-width="3"/>
<text x="670.3499999999999" y="1433.7" font-size="24.5" font-weight="bold" text-anchor="middle" >Term</text>
<line x1="755.7" y1="1403.8" x2="856.2" y2="1403.8" stroke="#000" stroke-width="3"/>
<text x="805.95" y="1433.7" font-size="24.5" font-weight="bold" text-anchor="middle" >Pre-term</text>
<text transform="translate(498.7,1215) rotate(-90)" font-size="24" font-weight="bold" text-anchor="middle" textLength="302" lengthAdjust="spacingAndGlyphs" >Mitochondrial SOD activity</text>
<text transform="translate(527.7,1215.4) rotate(-90)" font-size="24" font-weight="bold" text-anchor="middle" textLength="76" lengthAdjust="spacingAndGlyphs" >(U/mL)</text>
<text x="629.8" y="1297.0" font-size="24" font-weight="normal" text-anchor="start" >PE *</text>
<text x="629.8" y="1323.6" font-size="24" font-weight="normal" text-anchor="start" >Gestation **</text>
<path d="M773.9,1097.4V1074.5H838.7V1152.5" fill="none" stroke="#000" stroke-width="2.6"/>
<text x="805.8" y="1082.8" font-size="38" font-weight="normal" text-anchor="middle" >*</text>
<circle cx="629" cy="1098.4" r="5.8"/>
<circle cx="646.7" cy="1101.5" r="5.8"/>
<circle cx="646.7" cy="1127.4" r="5.8"/>
<circle cx="620.6" cy="1136.6" r="5.8"/>
<circle cx="629.3" cy="1144.8" r="5.8"/>
<circle cx="632.2" cy="1152.4" r="5.8"/>
<circle cx="646.7" cy="1150.7" r="5.8"/>
<circle cx="643.5" cy="1156.4" r="5.8"/>
<circle cx="646.7" cy="1176.9" r="5.8"/>
<circle cx="629" cy="1181.1" r="5.8"/>
<line x1="637.8" y1="1170.2" x2="637.8" y2="1114.9" stroke="#000" stroke-width="2.5"/>
<line x1="626.5999999999999" y1="1170.2" x2="649.0" y2="1170.2" stroke="#000" stroke-width="2.5"/>
<line x1="626.5999999999999" y1="1114.9" x2="649.0" y2="1114.9" stroke="#000" stroke-width="2.5"/>
<line x1="615.55" y1="1142.5" x2="660.05" y2="1142.5" stroke="#000" stroke-width="2.5"/>
<rect x="707.9" y="1086.3" width="11.4" height="11.4"/>
<rect x="690.5" y="1101.9" width="11.4" height="11.4"/>
<rect x="690.5" y="1126.6" width="11.4" height="11.4"/>
<rect x="716.7" y="1134.0" width="11.4" height="11.4"/>
<rect x="707.9" y="1145.0" width="11.4" height="11.4"/>
<rect x="690.5" y="1152.4" width="11.4" height="11.4"/>
<rect x="713.2" y="1164.1" width="11.4" height="11.4"/>
<rect x="685.6" y="1171.2" width="11.4" height="11.4"/>
<rect x="699.4" y="1176.4" width="11.4" height="11.4"/>
<rect x="699.4" y="1210.4" width="11.4" height="11.4"/>
<line x1="704.9" y1="1189.2" x2="704.9" y2="1116.1" stroke="#000" stroke-width="2.5"/>
<line x1="693.6999999999999" y1="1189.2" x2="716.1" y2="1189.2" stroke="#000" stroke-width="2.5"/>
<line x1="693.6999999999999" y1="1116.1" x2="716.1" y2="1116.1" stroke="#000" stroke-width="2.5"/>
<line x1="682.65" y1="1152.8" x2="727.15" y2="1152.8" stroke="#000" stroke-width="2.5"/>
<path d="M763.3,1116.3L769.3,1127.9L757.3,1127.9Z"/>
<path d="M781.0,1111.4L787.0,1123.0L775.0,1123.0Z"/>
<path d="M763.3,1147.5L769.3,1159.1L757.3,1159.1Z"/>
<path d="M781.0,1160.2L787.0,1171.8L775.0,1171.8Z"/>
<path d="M763.3,1191.3L769.3,1202.9L757.3,1202.9Z"/>
<path d="M781.0,1189.9L787.0,1201.5L775.0,1201.5Z"/>
<line x1="772" y1="1192.2" x2="772" y2="1123.8" stroke="#000" stroke-width="2.5"/>
<line x1="760.8" y1="1192.2" x2="783.2" y2="1192.2" stroke="#000" stroke-width="2.5"/>
<line x1="760.8" y1="1123.8" x2="783.2" y2="1123.8" stroke="#000" stroke-width="2.5"/>
<line x1="749.75" y1="1158.2" x2="794.25" y2="1158.2" stroke="#000" stroke-width="2.5"/>
<path d="M839.3,1178.8L845.3,1167.2L833.3,1167.2Z"/>
<path d="M848.2,1190.2L854.2,1178.6L842.2,1178.6Z"/>
<path d="M822.0,1197.9L828.0,1186.3L816.0,1186.3Z"/>
<path d="M830.5,1205.7L836.5,1194.1L824.5,1194.1Z"/>
<path d="M848.2,1218.5L854.2,1206.9L842.2,1206.9Z"/>
<path d="M839.3,1238.3L845.3,1226.7L833.3,1226.7Z"/>
<line x1="839.1" y1="1221.1" x2="839.1" y2="1179" stroke="#000" stroke-width="2.5"/>
<line x1="827.9" y1="1221.1" x2="850.3000000000001" y2="1221.1" stroke="#000" stroke-width="2.5"/>
<line x1="827.9" y1="1179" x2="850.3000000000001" y2="1179" stroke="#000" stroke-width="2.5"/>
<line x1="816.85" y1="1200.2" x2="861.35" y2="1200.2" stroke="#000" stroke-width="2.5"/>
<text x="21.5" y="1513.5" font-size="35" font-weight="bold" text-anchor="start" >G</text>
<line x1="128" y1="1523.5" x2="128" y2="1816.6000000000001" stroke="#000" stroke-width="2.7"/>
<line x1="120" y1="1524.7" x2="128" y2="1524.7" stroke="#000" stroke-width="2.7"/>
<text x="117.2" y="1532.3" font-size="22" font-weight="bold" text-anchor="end" >0.4</text>
<line x1="120" y1="1597.4" x2="128" y2="1597.4" stroke="#000" stroke-width="2.7"/>
<text x="117.2" y="1605.0" font-size="22" font-weight="bold" text-anchor="end" >0.3</text>
<line x1="120" y1="1670.1" x2="128" y2="1670.1" stroke="#000" stroke-width="2.7"/>
<text x="117.2" y="1677.6999999999998" font-size="22" font-weight="bold" text-anchor="end" >0.2</text>
<line x1="120" y1="1742.8" x2="128" y2="1742.8" stroke="#000" stroke-width="2.7"/>
<text x="117.2" y="1750.3999999999999" font-size="22" font-weight="bold" text-anchor="end" >0.1</text>
<line x1="120" y1="1815.5" x2="128" y2="1815.5" stroke="#000" stroke-width="2.7"/>
<text x="117.2" y="1823.1" font-size="22" font-weight="bold" text-anchor="end" >0.0</text>
<line x1="126.8" y1="1815.4" x2="419.6" y2="1815.4" stroke="#000" stroke-width="2.7"/>
<line x1="172.2" y1="1815.4" x2="172.2" y2="1823.4" stroke="#000" stroke-width="2.7"/>
<line x1="239.4" y1="1815.4" x2="239.4" y2="1823.4" stroke="#000" stroke-width="2.7"/>
<line x1="306.8" y1="1815.4" x2="306.8" y2="1823.4" stroke="#000" stroke-width="2.7"/>
<line x1="374.0" y1="1815.4" x2="374.0" y2="1823.4" stroke="#000" stroke-width="2.7"/>
<text x="172.2" y="1847.1000000000001" font-size="22" font-weight="bold" text-anchor="middle" >Ctrl</text>
<text x="239.4" y="1847.1000000000001" font-size="22" font-weight="bold" text-anchor="middle" >PE</text>
<text x="306.8" y="1847.1000000000001" font-size="22" font-weight="bold" text-anchor="middle" >Ctrl</text>
<text x="374.0" y="1847.1000000000001" font-size="22" font-weight="bold" text-anchor="middle" >PE</text>
<line x1="154.2" y1="1858.4" x2="255.4" y2="1858.4" stroke="#000" stroke-width="3"/>
<text x="204.8" y="1888.3000000000002" font-size="24.5" font-weight="bold" text-anchor="middle" >Term</text>
<line x1="290.5" y1="1858.4" x2="391.1" y2="1858.4" stroke="#000" stroke-width="3"/>
<text x="340.8" y="1888.3000000000002" font-size="24.5" font-weight="bold" text-anchor="middle" >Pre-term</text>
<text transform="translate(40.1,1668.5) rotate(-90)" font-size="24" font-weight="bold" text-anchor="middle" textLength="183" lengthAdjust="spacingAndGlyphs" >Catalase activity</text>
<text transform="translate(68.9,1670) rotate(-90)" font-size="24" font-weight="bold" text-anchor="middle" textLength="183" lengthAdjust="spacingAndGlyphs" >(1 μM H<tspan font-size="17" font-weight="normal" dy="5">2</tspan><tspan dy="-5">O</tspan><tspan font-size="17" font-weight="normal" dy="5">2</tspan><tspan dy="-5">/min)</tspan></text>
<text x="141.6" y="1547.3" font-size="24" font-weight="normal" text-anchor="start" >Gestation **</text>
<circle cx="172.2" cy="1595.6" r="5.8"/>
<circle cx="172.2" cy="1693.2" r="5.8"/>
<circle cx="181" cy="1708" r="5.8"/>
<circle cx="154.9" cy="1724.3" r="5.8"/>
<circle cx="163.8" cy="1728.2" r="5.8"/>
<circle cx="181" cy="1736.3" r="5.8"/>
<circle cx="166.6" cy="1739.8" r="5.8"/>
<circle cx="177.9" cy="1745.8" r="5.8"/>
<circle cx="163.8" cy="1781.1" r="5.8"/>
<circle cx="181" cy="1778.7" r="5.8"/>
<line x1="172.2" y1="1775.2" x2="172.2" y2="1670.5" stroke="#000" stroke-width="2.5"/>
<line x1="161.0" y1="1775.2" x2="183.39999999999998" y2="1775.2" stroke="#000" stroke-width="2.5"/>
<line x1="161.0" y1="1670.5" x2="183.39999999999998" y2="1670.5" stroke="#000" stroke-width="2.5"/>
<line x1="149.95" y1="1723.1" x2="194.45" y2="1723.1" stroke="#000" stroke-width="2.5"/>
<rect x="233.7" y="1621.0" width="11.4" height="11.4"/>
<rect x="233.7" y="1682.5" width="11.4" height="11.4"/>
<rect x="220.3" y="1695.9" width="11.4" height="11.4"/>
<rect x="247.5" y="1697.8" width="11.4" height="11.4"/>
<rect x="226.9" y="1708.7" width="11.4" height="11.4"/>
<rect x="240.4" y="1710.1" width="11.4" height="11.4"/>
<rect x="233.7" y="1712.9" width="11.4" height="11.4"/>
<rect x="233.7" y="1735.3" width="11.4" height="11.4"/>
<rect x="242.5" y="1746.9" width="11.4" height="11.4"/>
<rect x="225.1" y="1756.8" width="11.4" height="11.4"/>
<line x1="239.4" y1="1750.4" x2="239.4" y2="1674.2" stroke="#000" stroke-width="2.5"/>
<line x1="228.20000000000002" y1="1750.4" x2="250.6" y2="1750.4" stroke="#000" stroke-width="2.5"/>
<line x1="228.20000000000002" y1="1674.2" x2="250.6" y2="1674.2" stroke="#000" stroke-width="2.5"/>
<line x1="217.15" y1="1712.7" x2="261.65" y2="1712.7" stroke="#000" stroke-width="2.5"/>
<path d="M306.9,1704.8L312.9,1716.4L300.9,1716.4Z"/>
<path d="M306.9,1736.6L312.9,1748.2L300.9,1748.2Z"/>
<path d="M306.9,1757.1L312.9,1768.7L300.9,1768.7Z"/>
<path d="M293.2,1768.5L299.2,1780.1L287.2,1780.1Z"/>
<path d="M320.6,1775.1L326.6,1786.7L314.6,1786.7Z"/>
<path d="M306.9,1784.7L312.9,1796.3L300.9,1796.3Z"/>
<line x1="306.9" y1="1788.8" x2="306.9" y2="1730.1" stroke="#000" stroke-width="2.5"/>
<line x1="295.7" y1="1788.8" x2="318.09999999999997" y2="1788.8" stroke="#000" stroke-width="2.5"/>
<line x1="295.7" y1="1730.1" x2="318.09999999999997" y2="1730.1" stroke="#000" stroke-width="2.5"/>
<line x1="284.65" y1="1759.4" x2="329.15" y2="1759.4" stroke="#000" stroke-width="2.5"/>
<path d="M374.1,1763.1L380.1,1751.5L368.1,1751.5Z"/>
<path d="M359.9,1788.5L365.9,1776.9L353.9,1776.9Z"/>
<path d="M367.7,1789.3L373.7,1777.7L361.7,1777.7Z"/>
<path d="M380.4,1789.3L386.4,1777.7L374.4,1777.7Z"/>
<path d="M388.9,1788.5L394.9,1776.9L382.9,1776.9Z"/>
<path d="M374.1,1795.6L380.1,1784.0L368.1,1784.0Z"/>
<line x1="374.1" y1="1792.2" x2="374.1" y2="1769.3" stroke="#000" stroke-width="2.5"/>
<line x1="362.90000000000003" y1="1792.2" x2="385.3" y2="1792.2" stroke="#000" stroke-width="2.5"/>
<line x1="362.90000000000003" y1="1769.3" x2="385.3" y2="1769.3" stroke="#000" stroke-width="2.5"/>
<line x1="351.85" y1="1780.6" x2="396.35" y2="1780.6" stroke="#000" stroke-width="2.5"/>
<text x="474" y="1513.8" font-size="35" font-weight="bold" text-anchor="start" >H</text>
<line x1="568.4" y1="1522.5" x2="568.4" y2="1817.3" stroke="#000" stroke-width="2.7"/>
<line x1="560.4" y1="1523.7" x2="568.4" y2="1523.7" stroke="#000" stroke-width="2.7"/>
<text x="557.6" y="1531.3" font-size="22" font-weight="bold" text-anchor="end" >2.5</text>
<line x1="560.4" y1="1582.2" x2="568.4" y2="1582.2" stroke="#000" stroke-width="2.7"/>
<text x="557.6" y="1589.8" font-size="22" font-weight="bold" text-anchor="end" >2.0</text>
<line x1="560.4" y1="1640.7" x2="568.4" y2="1640.7" stroke="#000" stroke-width="2.7"/>
<text x="557.6" y="1648.3" font-size="22" font-weight="bold" text-anchor="end" >1.5</text>
<line x1="560.4" y1="1699.2" x2="568.4" y2="1699.2" stroke="#000" stroke-width="2.7"/>
<text x="557.6" y="1706.8" font-size="22" font-weight="bold" text-anchor="end" >1.0</text>
<line x1="560.4" y1="1757.7" x2="568.4" y2="1757.7" stroke="#000" stroke-width="2.7"/>
<text x="557.6" y="1765.3" font-size="22" font-weight="bold" text-anchor="end" >0.5</text>
<line x1="560.4" y1="1816.2" x2="568.4" y2="1816.2" stroke="#000" stroke-width="2.7"/>
<text x="557.6" y="1823.8" font-size="22" font-weight="bold" text-anchor="end" >0.0</text>
<line x1="567.1999999999999" y1="1816.1" x2="860.3" y2="1816.1" stroke="#000" stroke-width="2.7"/>
<line x1="612.9" y1="1816.1" x2="612.9" y2="1824.1" stroke="#000" stroke-width="2.7"/>
<line x1="680.5" y1="1816.1" x2="680.5" y2="1824.1" stroke="#000" stroke-width="2.7"/>
<line x1="748.0" y1="1816.1" x2="748.0" y2="1824.1" stroke="#000" stroke-width="2.7"/>
<line x1="815.5" y1="1816.1" x2="815.5" y2="1824.1" stroke="#000" stroke-width="2.7"/>
<text x="612.9" y="1847.8" font-size="22" font-weight="bold" text-anchor="middle" >Ctrl</text>
<text x="680.5" y="1847.8" font-size="22" font-weight="bold" text-anchor="middle" >PE</text>
<text x="748.0" y="1847.8" font-size="22" font-weight="bold" text-anchor="middle" >Ctrl</text>
<text x="815.5" y="1847.8" font-size="22" font-weight="bold" text-anchor="middle" >PE</text>
<line x1="594.9" y1="1859.1" x2="696.5" y2="1859.1" stroke="#000" stroke-width="3"/>
<text x="645.7" y="1889.0" font-size="24.5" font-weight="bold" text-anchor="middle" >Term</text>
<line x1="731.7" y1="1859.1" x2="832.6" y2="1859.1" stroke="#000" stroke-width="3"/>
<text x="782.1500000000001" y="1889.0" font-size="24.5" font-weight="bold" text-anchor="middle" >Pre-term</text>
<text transform="translate(484,1668.6) rotate(-90)" font-size="24" font-weight="bold" text-anchor="middle" textLength="135.5" lengthAdjust="spacingAndGlyphs" >GPx activity</text>
<text transform="translate(512.8,1669.2) rotate(-90)" font-size="24" font-weight="bold" text-anchor="middle" textLength="259.7" lengthAdjust="spacingAndGlyphs" >relative to term control</text>
<text x="582.7" y="1541.3" font-size="24" font-weight="normal" text-anchor="start" >Gestation ****</text>
<path d="M612.8,1634V1575.9H681V1577.5" fill="none" stroke="#000" stroke-width="2.6"/>
<text x="646.8" y="1583.1" font-size="38" font-weight="normal" text-anchor="middle" >*</text>
<circle cx="604.4" cy="1647.7" r="5.8"/>
<circle cx="621.9" cy="1647.2" r="5.8"/>
<circle cx="604.4" cy="1669" r="5.8"/>
<circle cx="630.6" cy="1677.4" r="5.8"/>
<circle cx="599.8" cy="1684.6" r="5.8"/>
<circle cx="605.1" cy="1687.3" r="5.8"/>
<circle cx="626.5" cy="1685.3" r="5.8"/>
<circle cx="621.1" cy="1687.6" r="5.8"/>
<circle cx="608.9" cy="1694.2" r="5.8"/>
<circle cx="617.3" cy="1698" r="5.8"/>
<circle cx="612" cy="1699.5" r="5.8"/>
<circle cx="604.4" cy="1705.3" r="5.8"/>
<circle cx="621.9" cy="1709.4" r="5.8"/>
<circle cx="607.4" cy="1713.2" r="5.8"/>
<circle cx="618.1" cy="1719.3" r="5.8"/>
<circle cx="599" cy="1723.1" r="5.8"/>
<circle cx="626.5" cy="1725.4" r="5.8"/>
<circle cx="606.2" cy="1733.3" r="5.8"/>
<circle cx="612.8" cy="1740.6" r="5.8"/>
<circle cx="619.9" cy="1739.1" r="5.8"/>
<line x1="612.9" y1="1726.2" x2="612.9" y2="1672.1" stroke="#000" stroke-width="2.5"/>
<line x1="601.6999999999999" y1="1726.2" x2="624.1" y2="1726.2" stroke="#000" stroke-width="2.5"/>
<line x1="601.6999999999999" y1="1672.1" x2="624.1" y2="1672.1" stroke="#000" stroke-width="2.5"/>
<line x1="590.65" y1="1699.5" x2="635.15" y2="1699.5" stroke="#000" stroke-width="2.5"/>
<rect x="674.8" y="1583.3" width="11.4" height="11.4"/>
<rect x="688.6" y="1620.4" width="11.4" height="11.4"/>
<rect x="661.1" y="1623.7" width="11.4" height="11.4"/>
<rect x="674.8" y="1624.0" width="11.4" height="11.4"/>
<rect x="683.7" y="1638.2" width="11.4" height="11.4"/>
<rect x="657.3" y="1645.8" width="11.4" height="11.4"/>
<rect x="666.0" y="1654.9" width="11.4" height="11.4"/>
<rect x="683.7" y="1667.6" width="11.4" height="11.4"/>
<rect x="661.1" y="1672.8" width="11.4" height="11.4"/>
<rect x="688.6" y="1680.8" width="11.4" height="11.4"/>
<rect x="674.8" y="1686.5" width="11.4" height="11.4"/>
<rect x="674.8" y="1717.0" width="11.4" height="11.4"/>
<rect x="666.0" y="1750.2" width="11.4" height="11.4"/>
<rect x="683.7" y="1746.4" width="11.4" height="11.4"/>
<line x1="680.5" y1="1719.3" x2="680.5" y2="1622.6" stroke="#000" stroke-width="2.5"/>
<line x1="669.3" y1="1719.3" x2="691.7" y2="1719.3" stroke="#000" stroke-width="2.5"/>
<line x1="669.3" y1="1622.6" x2="691.7" y2="1622.6" stroke="#000" stroke-width="2.5"/>
<line x1="658.25" y1="1670.9" x2="702.75" y2="1670.9" stroke="#000" stroke-width="2.5"/>
<path d="M748.0,1715.4L754.0,1727.0L742.0,1727.0Z"/>
<path d="M748.0,1747.2L754.0,1758.8L742.0,1758.8Z"/>
<path d="M739.5,1761.7L745.5,1773.3L733.5,1773.3Z"/>
<path d="M742.6,1763.5L748.6,1775.1L736.6,1775.1Z"/>
<path d="M754.0,1763.5L760.0,1775.1L748.0,1775.1Z"/>
<path d="M757.1,1763.1L763.1,1774.7L751.1,1774.7Z"/>
<path d="M734.1,1776.2L740.1,1787.8L728.1,1787.8Z"/>
<path d="M761.7,1780.5L767.7,1792.1L755.7,1792.1Z"/>
<path d="M748.0,1787.6L754.0,1799.2L742.0,1799.2Z"/>
<line x1="748" y1="1789.1" x2="748" y2="1746.7" stroke="#000" stroke-width="2.5"/>
<line x1="736.8" y1="1789.1" x2="759.2" y2="1789.1" stroke="#000" stroke-width="2.5"/>
<line x1="736.8" y1="1746.7" x2="759.2" y2="1746.7" stroke="#000" stroke-width="2.5"/>
<line x1="725.75" y1="1767.5" x2="770.25" y2="1767.5" stroke="#000" stroke-width="2.5"/>
<path d="M815.5,1650.7L821.5,1639.1L809.5,1639.1Z"/>
<path d="M815.5,1713.6L821.5,1702.0L809.5,1702.0Z"/>
<path d="M828.9,1763.1L834.9,1751.5L822.9,1751.5Z"/>
<path d="M801.8,1770.9L807.8,1759.3L795.8,1759.3Z"/>
<path d="M815.5,1770.9L821.5,1759.3L809.5,1759.3Z"/>
<path d="M801.8,1796.3L807.8,1784.7L795.8,1784.7Z"/>
<path d="M815.5,1801.3L821.5,1789.7L809.5,1789.7Z"/>
<path d="M828.9,1802.0L834.9,1790.4L822.9,1790.4Z"/>
<line x1="815.5" y1="1806.1" x2="815.5" y2="1701.7" stroke="#000" stroke-width="2.5"/>
<line x1="804.3" y1="1806.1" x2="826.7" y2="1806.1" stroke="#000" stroke-width="2.5"/>
<line x1="804.3" y1="1701.7" x2="826.7" y2="1701.7" stroke="#000" stroke-width="2.5"/>
<line x1="793.25" y1="1754.2" x2="837.75" y2="1754.2" stroke="#000" stroke-width="2.5"/>
<text x="29.4" y="1980.1" font-size="35" font-weight="bold" text-anchor="start" >I</text>
<line x1="121.9" y1="1992.5" x2="121.9" y2="2287.3999999999996" stroke="#000" stroke-width="2.7"/>
<line x1="113.9" y1="1993.7" x2="121.9" y2="1993.7" stroke="#000" stroke-width="2.7"/>
<text x="111.10000000000001" y="2001.3" font-size="22" font-weight="bold" text-anchor="end" >5</text>
<line x1="113.9" y1="2052.2" x2="121.9" y2="2052.2" stroke="#000" stroke-width="2.7"/>
<text x="111.10000000000001" y="2059.7999999999997" font-size="22" font-weight="bold" text-anchor="end" >4</text>
<line x1="113.9" y1="2110.7" x2="121.9" y2="2110.7" stroke="#000" stroke-width="2.7"/>
<text x="111.10000000000001" y="2118.2999999999997" font-size="22" font-weight="bold" text-anchor="end" >3</text>
<line x1="113.9" y1="2169.2" x2="121.9" y2="2169.2" stroke="#000" stroke-width="2.7"/>
<text x="111.10000000000001" y="2176.7999999999997" font-size="22" font-weight="bold" text-anchor="end" >2</text>
<line x1="113.9" y1="2227.7" x2="121.9" y2="2227.7" stroke="#000" stroke-width="2.7"/>
<text x="111.10000000000001" y="2235.2999999999997" font-size="22" font-weight="bold" text-anchor="end" >1</text>
<line x1="113.9" y1="2286.2" x2="121.9" y2="2286.2" stroke="#000" stroke-width="2.7"/>
<text x="111.10000000000001" y="2293.7999999999997" font-size="22" font-weight="bold" text-anchor="end" >0</text>
<line x1="120.7" y1="2286.2" x2="415.2" y2="2286.2" stroke="#000" stroke-width="2.7"/>
<line x1="166.9" y1="2286.2" x2="166.9" y2="2294.2" stroke="#000" stroke-width="2.7"/>
<line x1="234.4" y1="2286.2" x2="234.4" y2="2294.2" stroke="#000" stroke-width="2.7"/>
<line x1="301.6" y1="2286.2" x2="301.6" y2="2294.2" stroke="#000" stroke-width="2.7"/>
<line x1="369.2" y1="2286.2" x2="369.2" y2="2294.2" stroke="#000" stroke-width="2.7"/>
<text x="166.9" y="2317.8999999999996" font-size="22" font-weight="bold" text-anchor="middle" >Ctrl</text>
<text x="234.4" y="2317.8999999999996" font-size="22" font-weight="bold" text-anchor="middle" >PE</text>
<text x="301.6" y="2317.8999999999996" font-size="22" font-weight="bold" text-anchor="middle" >Ctrl</text>
<text x="369.2" y="2317.8999999999996" font-size="22" font-weight="bold" text-anchor="middle" >PE</text>
<line x1="148.9" y1="2329.2" x2="250.4" y2="2329.2" stroke="#000" stroke-width="3"/>
<text x="199.65" y="2359.1" font-size="24.5" font-weight="bold" text-anchor="middle" >Term</text>
<line x1="285.3" y1="2329.2" x2="386.3" y2="2329.2" stroke="#000" stroke-width="3"/>
<text x="335.8" y="2359.1" font-size="24.5" font-weight="bold" text-anchor="middle" >Pre-term</text>
<text transform="translate(57.2,2139.4) rotate(-90)" font-size="24" font-weight="bold" text-anchor="middle" textLength="217.5" lengthAdjust="spacingAndGlyphs" >NF-<tspan font-family="Liberation Serif" font-weight="normal">κ</tspan>B protein level</text>
<text transform="translate(86.6,2139.9) rotate(-90)" font-size="24" font-weight="bold" text-anchor="middle" textLength="261" lengthAdjust="spacingAndGlyphs" >relative to term control</text>
<text x="137" y="2011.3" font-size="24" font-weight="normal" text-anchor="start" >PE *</text>
<text x="137" y="2038.85" font-size="24" font-weight="normal" text-anchor="start" >Gestation ****</text>
<text x="137" y="2066.4" font-size="24" font-weight="normal" text-anchor="start" >Interaction **</text>
<path d="M301.2,2110.9V2001.5H369.3V2014.2" fill="none" stroke="#000" stroke-width="2.6"/>
<text x="336.2" y="2008.8" font-size="38" font-weight="normal" text-anchor="middle" >**</text>
<circle cx="167.1" cy="2182.7" r="5.8"/>
<circle cx="153.4" cy="2191.5" r="5.8"/>
<circle cx="180.7" cy="2197.6" r="5.8"/>
<circle cx="167.1" cy="2207.9" r="5.8"/>
<circle cx="167.1" cy="2244.3" r="5.8"/>
<circle cx="158.3" cy="2286.3" r="5.8"/>
<circle cx="175.7" cy="2284.9" r="5.8"/>
<line x1="166.9" y1="2271.8" x2="166.9" y2="2183.7" stroke="#000" stroke-width="2.5"/>
<line x1="155.70000000000002" y1="2271.8" x2="178.1" y2="2271.8" stroke="#000" stroke-width="2.5"/>
<line x1="155.70000000000002" y1="2183.7" x2="178.1" y2="2183.7" stroke="#000" stroke-width="2.5"/>
<line x1="144.65" y1="2228" x2="189.15" y2="2228" stroke="#000" stroke-width="2.5"/>
<rect x="220.1" y="2182.7" width="11.4" height="11.4"/>
<rect x="237.5" y="2195.7" width="11.4" height="11.4"/>
<rect x="228.7" y="2219.7" width="11.4" height="11.4"/>
<rect x="242.5" y="2228.2" width="11.4" height="11.4"/>
<rect x="215.3" y="2242.4" width="11.4" height="11.4"/>
<rect x="228.7" y="2242.8" width="11.4" height="11.4"/>
<rect x="228.7" y="2271.8" width="11.4" height="11.4"/>
<line x1="234.4" y1="2262.2" x2="234.4" y2="2201.4" stroke="#000" stroke-width="2.5"/>
<line x1="223.20000000000002" y1="2262.2" x2="245.6" y2="2262.2" stroke="#000" stroke-width="2.5"/>
<line x1="223.20000000000002" y1="2201.4" x2="245.6" y2="2201.4" stroke="#000" stroke-width="2.5"/>
<line x1="212.15" y1="2232" x2="256.65" y2="2232" stroke="#000" stroke-width="2.5"/>
<path d="M301.7,2124.9L307.7,2136.5L295.7,2136.5Z"/>
<path d="M301.7,2153.9L307.7,2165.5L295.7,2165.5Z"/>
<path d="M292.9,2194.2L298.9,2205.8L286.9,2205.8Z"/>
<path d="M310.8,2211.0L316.8,2222.6L304.8,2222.6Z"/>
<path d="M301.7,2234.6L307.7,2246.2L295.7,2246.2Z"/>
<line x1="301.6" y1="2233.3" x2="301.6" y2="2145.2" stroke="#000" stroke-width="2.5"/>
<line x1="290.40000000000003" y1="2233.3" x2="312.8" y2="2233.3" stroke="#000" stroke-width="2.5"/>
<line x1="290.40000000000003" y1="2145.2" x2="312.8" y2="2145.2" stroke="#000" stroke-width="2.5"/>
<line x1="279.35" y1="2189.4" x2="323.85" y2="2189.4" stroke="#000" stroke-width="2.5"/>
<path d="M369.3,2040.5L375.3,2028.9L363.3,2028.9Z"/>
<path d="M369.3,2069.5L375.3,2057.9L363.3,2057.9Z"/>
<path d="M360.2,2104.5L366.2,2092.9L354.2,2092.9Z"/>
<path d="M377.9,2112.1L383.9,2100.5L371.9,2100.5Z"/>
<path d="M377.9,2147.2L383.9,2135.6L371.9,2135.6Z"/>
<path d="M360.2,2153.3L366.2,2141.7L354.2,2141.7Z"/>
<line x1="369.2" y1="2142.9" x2="369.2" y2="2055.6" stroke="#000" stroke-width="2.5"/>
<line x1="358.0" y1="2142.9" x2="380.4" y2="2142.9" stroke="#000" stroke-width="2.5"/>
<line x1="358.0" y1="2055.6" x2="380.4" y2="2055.6" stroke="#000" stroke-width="2.5"/>
<line x1="346.95" y1="2099.8" x2="391.45" y2="2099.8" stroke="#000" stroke-width="2.5"/>
<line x1="87.1" y1="2373.9" x2="266" y2="2373.9" stroke="#000" stroke-width="3.9"/>
<line x1="273" y1="2373.9" x2="453.7" y2="2373.9" stroke="#000" stroke-width="3.9"/>
<text x="42" y="2411.7" font-size="23" font-weight="bold" text-anchor="start" >kDa</text>
<text x="134.5" y="2407.6" font-size="22.5" font-weight="bold" text-anchor="middle" >Ctrl</text>
<text x="220.4" y="2407.6" font-size="22.5" font-weight="bold" text-anchor="middle" >PE</text>
<text x="313" y="2407.6" font-size="22.5" font-weight="bold" text-anchor="middle" >Ctrl</text>
<text x="405.4" y="2407.6" font-size="22.5" font-weight="bold" text-anchor="middle" >PE</text>
<text x="83.8" y="2438.9" font-size="23" font-weight="bold" text-anchor="end" >65</text>
<text x="83" y="2466.6" font-size="23" font-weight="bold" text-anchor="end" >42</text>
<text x="457.5" y="2437" font-size="22.5" font-weight="bold" text-anchor="start" >NF-κB</text>
<text x="457.5" y="2466.4" font-size="22.5" font-weight="bold" text-anchor="start" >βA</text>
<defs><filter id="bl" x="-30%" y="-60%" width="160%" height="220%"><feGaussianBlur stdDeviation="1.6"/></filter><filter id="bl3" x="-30%" y="-60%" width="160%" height="220%"><feGaussianBlur stdDeviation="1.1"/></filter></defs>
<rect x="87.4" y="2416" width="89.6" height="25.8" fill="#dadada"/>
<rect x="87.4" y="2449.2" width="89.6" height="21.4" fill="#dadada"/>
<rect x="182.1" y="2416" width="84.6" height="25.8" fill="#dadada"/>
<rect x="182.1" y="2449.2" width="84.6" height="21.4" fill="#dadada"/>
<rect x="272.1" y="2416" width="88.9" height="25.8" fill="#dadada"/>
<rect x="272.1" y="2449.2" width="88.9" height="21.4" fill="#dadada"/>
<rect x="365.4" y="2416" width="87.6" height="25.8" fill="#dadada"/>
<rect x="365.4" y="2449.2" width="87.6" height="21.4" fill="#dadada"/>
<rect x="95.7" y="2421.8" width="21" height="10" rx="4.5" fill="#000" filter="url(#bl)"/>
<rect x="122.8" y="2423.2" width="20.5" height="9.5" rx="4.5" fill="#333" filter="url(#bl)"/>
<rect x="150.2" y="2424.0" width="20.5" height="10" rx="4.5" fill="#8c8c8c" filter="url(#bl)"/>
<rect x="184.6" y="2424.5" width="21" height="10" rx="4.5" fill="#2a2a2a" filter="url(#bl)"/>
<rect x="212.4" y="2423.6" width="21" height="10.5" rx="4.5" fill="#151515" filter="url(#bl)"/>
<rect x="240.4" y="2424.2" width="20" height="8.5" rx="4.5" fill="#383838" filter="url(#bl)"/>
<rect x="276.2" y="2428.2" width="20" height="6.5" rx="4.5" fill="#666" filter="url(#bl)"/>
<rect x="305.3" y="2428.2" width="19" height="6.5" rx="4.5" fill="#6c6c6c" filter="url(#bl)"/>
<rect x="333.3" y="2428.2" width="21" height="7.5" rx="4.5" fill="#555" filter="url(#bl)"/>
<rect x="369.5" y="2429.0" width="21" height="8" rx="4.5" fill="#505050" filter="url(#bl)"/>
<rect x="398.0" y="2428.8" width="21" height="8.5" rx="4.5" fill="#404040" filter="url(#bl)"/>
<rect x="425.9" y="2428.5" width="21" height="8" rx="4.5" fill="#555" filter="url(#bl)"/>
<rect x="96.7" y="2431.5" width="19" height="5" rx="2.5" fill="#8a8a8a" filter="url(#bl)"/>
<rect x="123.6" y="2432.0" width="19" height="5" rx="2.5" fill="#a0a0a0" filter="url(#bl)"/>
<rect x="151.0" y="2432.5" width="19" height="5" rx="2.5" fill="#b4b4b4" filter="url(#bl)"/>
<rect x="185.6" y="2432.5" width="19" height="5" rx="2.5" fill="#8c8c8c" filter="url(#bl)"/>
<rect x="213.4" y="2432.5" width="19" height="5" rx="2.5" fill="#8c8c8c" filter="url(#bl)"/>
<rect x="240.9" y="2431.5" width="19" height="5" rx="2.5" fill="#a8a8a8" filter="url(#bl)"/>
<line x1="272.1" y1="2424.6" x2="361" y2="2426.4" stroke="#555" stroke-width="1"/>
<rect x="97.0" y="2455.1" width="20.5" height="8.5" rx="4" fill="#000" filter="url(#bl3)"/>
<rect x="124.3" y="2454.9" width="19" height="7.5" rx="4" fill="#000" filter="url(#bl3)"/>
<rect x="150.7" y="2456.3" width="19.5" height="8" rx="4" fill="#000" filter="url(#bl3)"/>
<rect x="185.1" y="2455.7" width="21.5" height="8" rx="4" fill="#000" filter="url(#bl3)"/>
<rect x="213.2" y="2455.7" width="20" height="8" rx="4" fill="#000" filter="url(#bl3)"/>
<rect x="240.6" y="2454.7" width="21.5" height="8" rx="4" fill="#000" filter="url(#bl3)"/>
<rect x="275.4" y="2455.8" width="22" height="7.5" rx="4" fill="#000" filter="url(#bl3)"/>
<rect x="304.0" y="2455.2" width="22" height="8.5" rx="4" fill="#000" filter="url(#bl3)"/>
<rect x="332.9" y="2456.0" width="22.5" height="8" rx="4" fill="#000" filter="url(#bl3)"/>
<rect x="369.4" y="2457.4" width="22.5" height="8" rx="4" fill="#000" filter="url(#bl3)"/>
<rect x="397.9" y="2457.2" width="21.5" height="8.5" rx="4" fill="#000" filter="url(#bl3)"/>
<rect x="425.8" y="2457.3" width="22" height="7" rx="4" fill="#000" filter="url(#bl3)"/>
<text x="476.5" y="1981.1" font-size="35" font-weight="bold" text-anchor="start" >J</text>
<line x1="570.5" y1="1995.3" x2="570.5" y2="2287.7" stroke="#000" stroke-width="2.7"/>
<line x1="562.5" y1="1996.5" x2="570.5" y2="1996.5" stroke="#000" stroke-width="2.7"/>
<text x="559.7" y="2004.1" font-size="22" font-weight="bold" text-anchor="end" >3</text>
<line x1="562.5" y1="2093.2" x2="570.5" y2="2093.2" stroke="#000" stroke-width="2.7"/>
<text x="559.7" y="2100.7999999999997" font-size="22" font-weight="bold" text-anchor="end" >2</text>
<line x1="562.5" y1="2189.8" x2="570.5" y2="2189.8" stroke="#000" stroke-width="2.7"/>
<text x="559.7" y="2197.4" font-size="22" font-weight="bold" text-anchor="end" >1</text>
<line x1="562.5" y1="2286.5" x2="570.5" y2="2286.5" stroke="#000" stroke-width="2.7"/>
<text x="559.7" y="2294.1" font-size="22" font-weight="bold" text-anchor="end" >0</text>
<line x1="569.3" y1="2286.5" x2="862" y2="2286.5" stroke="#000" stroke-width="2.7"/>
<line x1="614.8" y1="2286.5" x2="614.8" y2="2294.5" stroke="#000" stroke-width="2.7"/>
<line x1="681.9" y1="2286.5" x2="681.9" y2="2294.5" stroke="#000" stroke-width="2.7"/>
<line x1="749.0" y1="2286.5" x2="749.0" y2="2294.5" stroke="#000" stroke-width="2.7"/>
<line x1="816.2" y1="2286.5" x2="816.2" y2="2294.5" stroke="#000" stroke-width="2.7"/>
<text x="614.8" y="2318.2" font-size="22" font-weight="bold" text-anchor="middle" >Ctrl</text>
<text x="681.9" y="2318.2" font-size="22" font-weight="bold" text-anchor="middle" >PE</text>
<text x="749.0" y="2318.2" font-size="22" font-weight="bold" text-anchor="middle" >Ctrl</text>
<text x="816.2" y="2318.2" font-size="22" font-weight="bold" text-anchor="middle" >PE</text>
<line x1="596.8" y1="2329.5" x2="697.9" y2="2329.5" stroke="#000" stroke-width="3"/>
<text x="647.3499999999999" y="2359.4" font-size="24.5" font-weight="bold" text-anchor="middle" >Term</text>
<line x1="732.7" y1="2329.5" x2="833.3000000000001" y2="2329.5" stroke="#000" stroke-width="3"/>
<text x="783.0" y="2359.4" font-size="24.5" font-weight="bold" text-anchor="middle" >Pre-term</text>
<text transform="translate(504.9,2141.2) rotate(-90)" font-size="24" font-weight="bold" text-anchor="middle" textLength="100.5" lengthAdjust="spacingAndGlyphs" ><tspan font-style="italic">ADAM10</tspan></text>
<text transform="translate(533.9,2141.8) rotate(-90)" font-size="24" font-weight="bold" text-anchor="middle" textLength="259.4" lengthAdjust="spacingAndGlyphs" >mRNA expression level</text>
<circle cx="614.7" cy="2089.8" r="5.8"/>
<circle cx="606.2" cy="2120.9" r="5.8"/>
<circle cx="623.6" cy="2129.4" r="5.8"/>
<circle cx="601.3" cy="2143.5" r="5.8"/>
<circle cx="628.6" cy="2145.4" r="5.8"/>
<circle cx="614.7" cy="2159.1" r="5.8"/>
<circle cx="614.7" cy="2186.7" r="5.8"/>
<circle cx="601.3" cy="2191.6" r="5.8"/>
<circle cx="628.6" cy="2199.4" r="5.8"/>
<circle cx="614.7" cy="2205.8" r="5.8"/>
<circle cx="606.2" cy="2221.3" r="5.8"/>
<circle cx="632.4" cy="2224.5" r="5.8"/>
<circle cx="623.6" cy="2239" r="5.8"/>
<circle cx="606.2" cy="2250.3" r="5.8"/>
<line x1="614.8" y1="2227.7" x2="614.8" y2="2130.5" stroke="#000" stroke-width="2.5"/>
<line x1="603.5999999999999" y1="2227.7" x2="626.0" y2="2227.7" stroke="#000" stroke-width="2.5"/>
<line x1="603.5999999999999" y1="2130.5" x2="626.0" y2="2130.5" stroke="#000" stroke-width="2.5"/>
<line x1="592.55" y1="2178.9" x2="637.05" y2="2178.9" stroke="#000" stroke-width="2.5"/>
<rect x="676.2" y="2124.0" width="11.4" height="11.4"/>
<rect x="667.3" y="2148.0" width="11.4" height="11.4"/>
<rect x="685.1" y="2149.6" width="11.4" height="11.4"/>
<rect x="662.8" y="2179.2" width="11.4" height="11.4"/>
<rect x="689.9" y="2183.1" width="11.4" height="11.4"/>
<rect x="676.2" y="2187.1" width="11.4" height="11.4"/>
<rect x="689.9" y="2202.2" width="11.4" height="11.4"/>
<rect x="662.8" y="2217.3" width="11.4" height="11.4"/>
<rect x="676.2" y="2218.8" width="11.4" height="11.4"/>
<rect x="685.1" y="2229.1" width="11.4" height="11.4"/>
<rect x="667.3" y="2239.3" width="11.4" height="11.4"/>
<line x1="681.9" y1="2231.7" x2="681.9" y2="2157" stroke="#000" stroke-width="2.5"/>
<line x1="670.6999999999999" y1="2231.7" x2="693.1" y2="2231.7" stroke="#000" stroke-width="2.5"/>
<line x1="670.6999999999999" y1="2157" x2="693.1" y2="2157" stroke="#000" stroke-width="2.5"/>
<line x1="659.65" y1="2194.5" x2="704.15" y2="2194.5" stroke="#000" stroke-width="2.5"/>
<path d="M749.0,2123.0L755.0,2134.6L743.0,2134.6Z"/>
<path d="M740.5,2186.7L746.5,2198.3L734.5,2198.3Z"/>
<path d="M743.3,2189.5L749.3,2201.1L737.3,2201.1Z"/>
<path d="M754.7,2187.4L760.7,2199.0L748.7,2199.0Z"/>
<path d="M757.5,2186.7L763.5,2198.3L751.5,2198.3Z"/>
<path d="M749.0,2212.1L755.0,2223.7L743.0,2223.7Z"/>
<path d="M758.2,2218.5L764.2,2230.1L752.2,2230.1Z"/>
<path d="M740.5,2231.2L746.5,2242.8L734.5,2242.8Z"/>
<line x1="749" y1="2229.9" x2="749" y2="2164.9" stroke="#000" stroke-width="2.5"/>
<line x1="737.8" y1="2229.9" x2="760.2" y2="2229.9" stroke="#000" stroke-width="2.5"/>
<line x1="737.8" y1="2164.9" x2="760.2" y2="2164.9" stroke="#000" stroke-width="2.5"/>
<line x1="726.75" y1="2197.4" x2="771.25" y2="2197.4" stroke="#000" stroke-width="2.5"/>
<path d="M816.2,2036.3L822.2,2024.7L810.2,2024.7Z"/>
<path d="M816.2,2129.0L822.2,2117.4L810.2,2117.4Z"/>
<path d="M816.2,2162.9L822.2,2151.3L810.2,2151.3Z"/>
<path d="M824.7,2181.3L830.7,2169.7L818.7,2169.7Z"/>
<path d="M807.4,2195.4L813.4,2183.8L801.4,2183.8Z"/>
<path d="M816.2,2224.4L822.2,2212.8L810.2,2212.8Z"/>
<path d="M816.2,2244.9L822.2,2233.3L810.2,2233.3Z"/>
<line x1="816.2" y1="2232.8" x2="816.2" y2="2093.5" stroke="#000" stroke-width="2.5"/>
<line x1="805.0" y1="2232.8" x2="827.4000000000001" y2="2232.8" stroke="#000" stroke-width="2.5"/>
<line x1="805.0" y1="2093.5" x2="827.4000000000001" y2="2093.5" stroke="#000" stroke-width="2.5"/>
<line x1="793.95" y1="2163" x2="838.45" y2="2163" stroke="#000" stroke-width="2.5"/>
</svg></body></html>
